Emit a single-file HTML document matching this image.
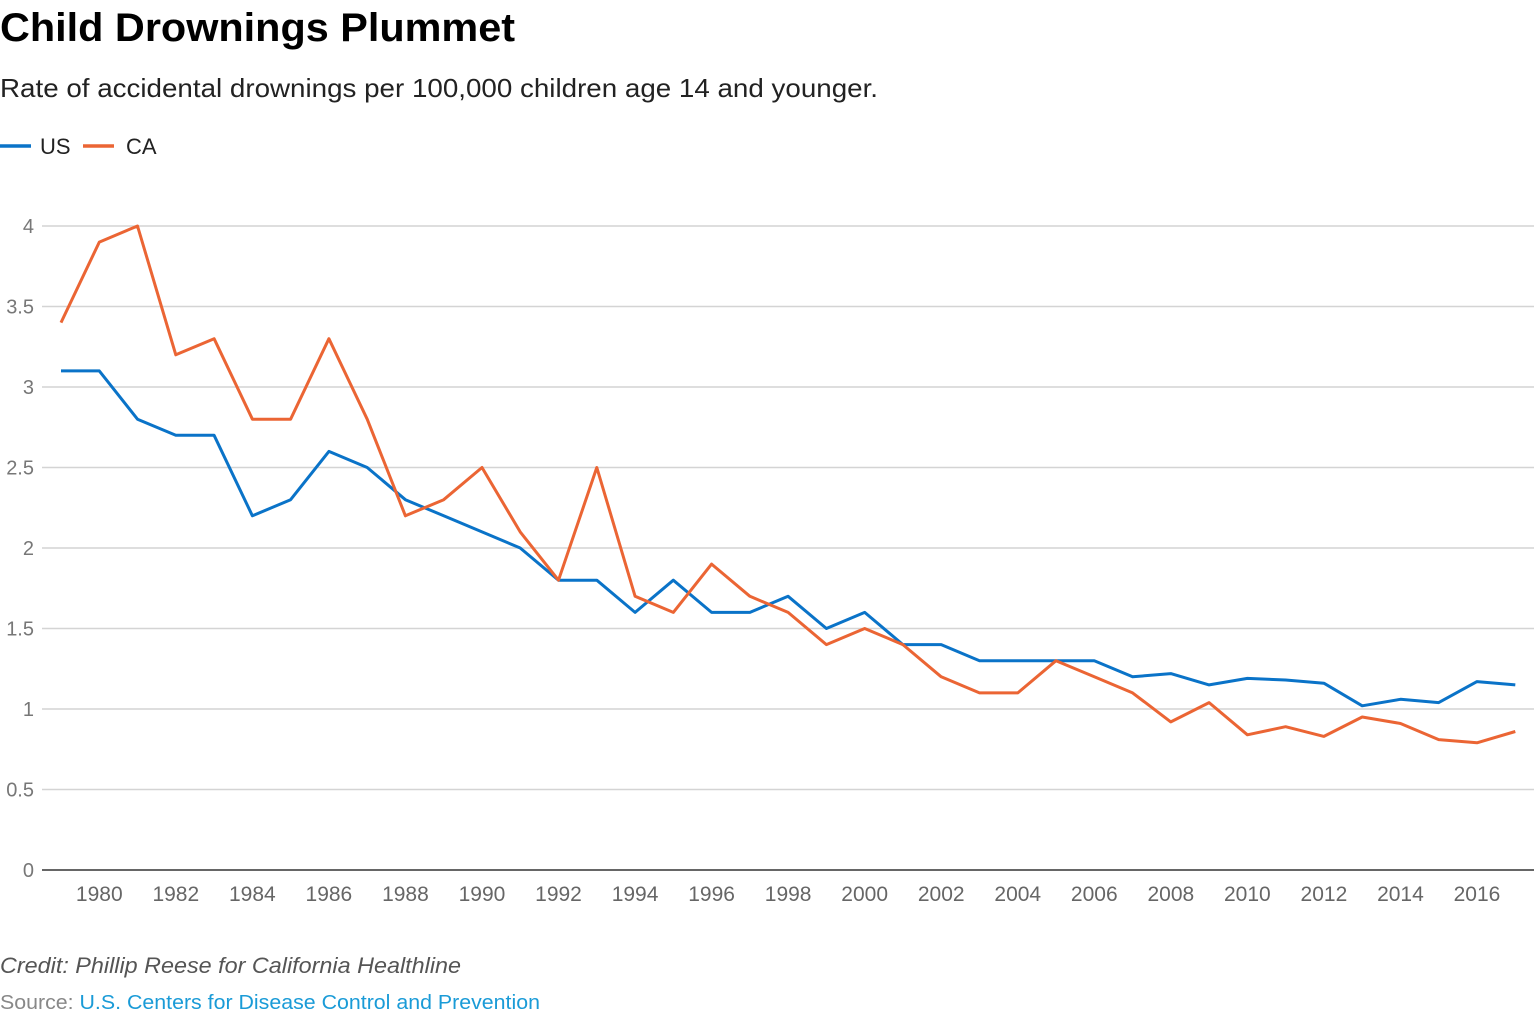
<!DOCTYPE html>
<html><head><meta charset="utf-8"><style>
body{margin:0;width:1540px;height:1026px;background:#fff;font-family:"Liberation Sans",sans-serif;overflow:hidden}
</style></head><body>
<svg width="1540" height="1026" xmlns="http://www.w3.org/2000/svg" font-family="Liberation Sans, sans-serif">
<text x="0" y="41" font-size="40" font-weight="bold" fill="#000" textLength="515" lengthAdjust="spacingAndGlyphs">Child Drownings Plummet</text>
<text x="0" y="97" font-size="26" fill="#222" textLength="878" lengthAdjust="spacingAndGlyphs">Rate of accidental drownings per 100,000 children age 14 and younger.</text>
<line x1="0" y1="146" x2="31" y2="146" stroke="#0a73c8" stroke-width="3.5"/>
<text x="40" y="154" font-size="22" fill="#222">US</text>
<line x1="83" y1="146" x2="114" y2="146" stroke="#eb6534" stroke-width="3.5"/>
<text x="126" y="154" font-size="22" fill="#222">CA</text>
<g id="grid" stroke="#d4d4d4" stroke-width="1.5"></g>
<g id="ylab" font-size="20" fill="#777" text-anchor="end"></g>
<line x1="42" y1="870" x2="1534" y2="870" stroke="#333" stroke-width="1.5"/>
<g id="xlab" font-size="21" fill="#666" text-anchor="middle"></g>
<polyline id="us" fill="none" stroke="#0a73c8" stroke-width="3" stroke-linejoin="round"/>
<polyline id="ca" fill="none" stroke="#eb6534" stroke-width="3" stroke-linejoin="round"/>
<text x="0" y="973" font-size="22" font-style="italic" fill="#555" textLength="461" lengthAdjust="spacingAndGlyphs">Credit: Phillip Reese for California Healthline</text>
<text x="0" y="1009" font-size="20" fill="#888" textLength="540" lengthAdjust="spacingAndGlyphs">Source: <tspan fill="#1a9bd7">U.S. Centers for Disease Control and Prevention</tspan></text>
</svg>
<script>
var NS="http://www.w3.org/2000/svg";
function Y(v){return 870-v*161;}
function X(yr){return 61+(yr-1979)*38.27;}
var g=document.getElementById('grid'),yl=document.getElementById('ylab'),xl=document.getElementById('xlab');
for(var i=1;i<=8;i++){var v=i/2,l=document.createElementNS(NS,'line');l.setAttribute('x1',42);l.setAttribute('x2',1534);l.setAttribute('y1',Y(v));l.setAttribute('y2',Y(v));g.appendChild(l);}
for(var i=0;i<=8;i++){var t=document.createElementNS(NS,'text');t.setAttribute('x',34);t.setAttribute('y',Y(i/2)+7);t.textContent=String(i/2);yl.appendChild(t);}
for(var yr=1980;yr<=2016;yr+=2){var t=document.createElementNS(NS,'text');t.setAttribute('x',X(yr));t.setAttribute('y',901);t.textContent=yr;xl.appendChild(t);}
var us=[3.1,3.1,2.8,2.7,2.7,2.2,2.3,2.6,2.5,2.3,2.2,2.1,2.0,1.8,1.8,1.6,1.8,1.6,1.6,1.7,1.5,1.6,1.4,1.4,1.3,1.3,1.3,1.3,1.2,1.22,1.15,1.19,1.18,1.16,1.02,1.06,1.04,1.17,1.15];
var ca=[3.4,3.9,4.0,3.2,3.3,2.8,2.8,3.3,2.8,2.2,2.3,2.5,2.1,1.8,2.5,1.7,1.6,1.9,1.7,1.6,1.4,1.5,1.4,1.2,1.1,1.1,1.3,1.2,1.1,0.92,1.04,0.84,0.89,0.83,0.95,0.91,0.81,0.79,0.86];
function pts(a){return a.map(function(v,i){return X(1979+i).toFixed(1)+','+Y(v).toFixed(1)}).join(' ');}
document.getElementById('us').setAttribute('points',pts(us));
document.getElementById('ca').setAttribute('points',pts(ca));
</script>
</body></html>
